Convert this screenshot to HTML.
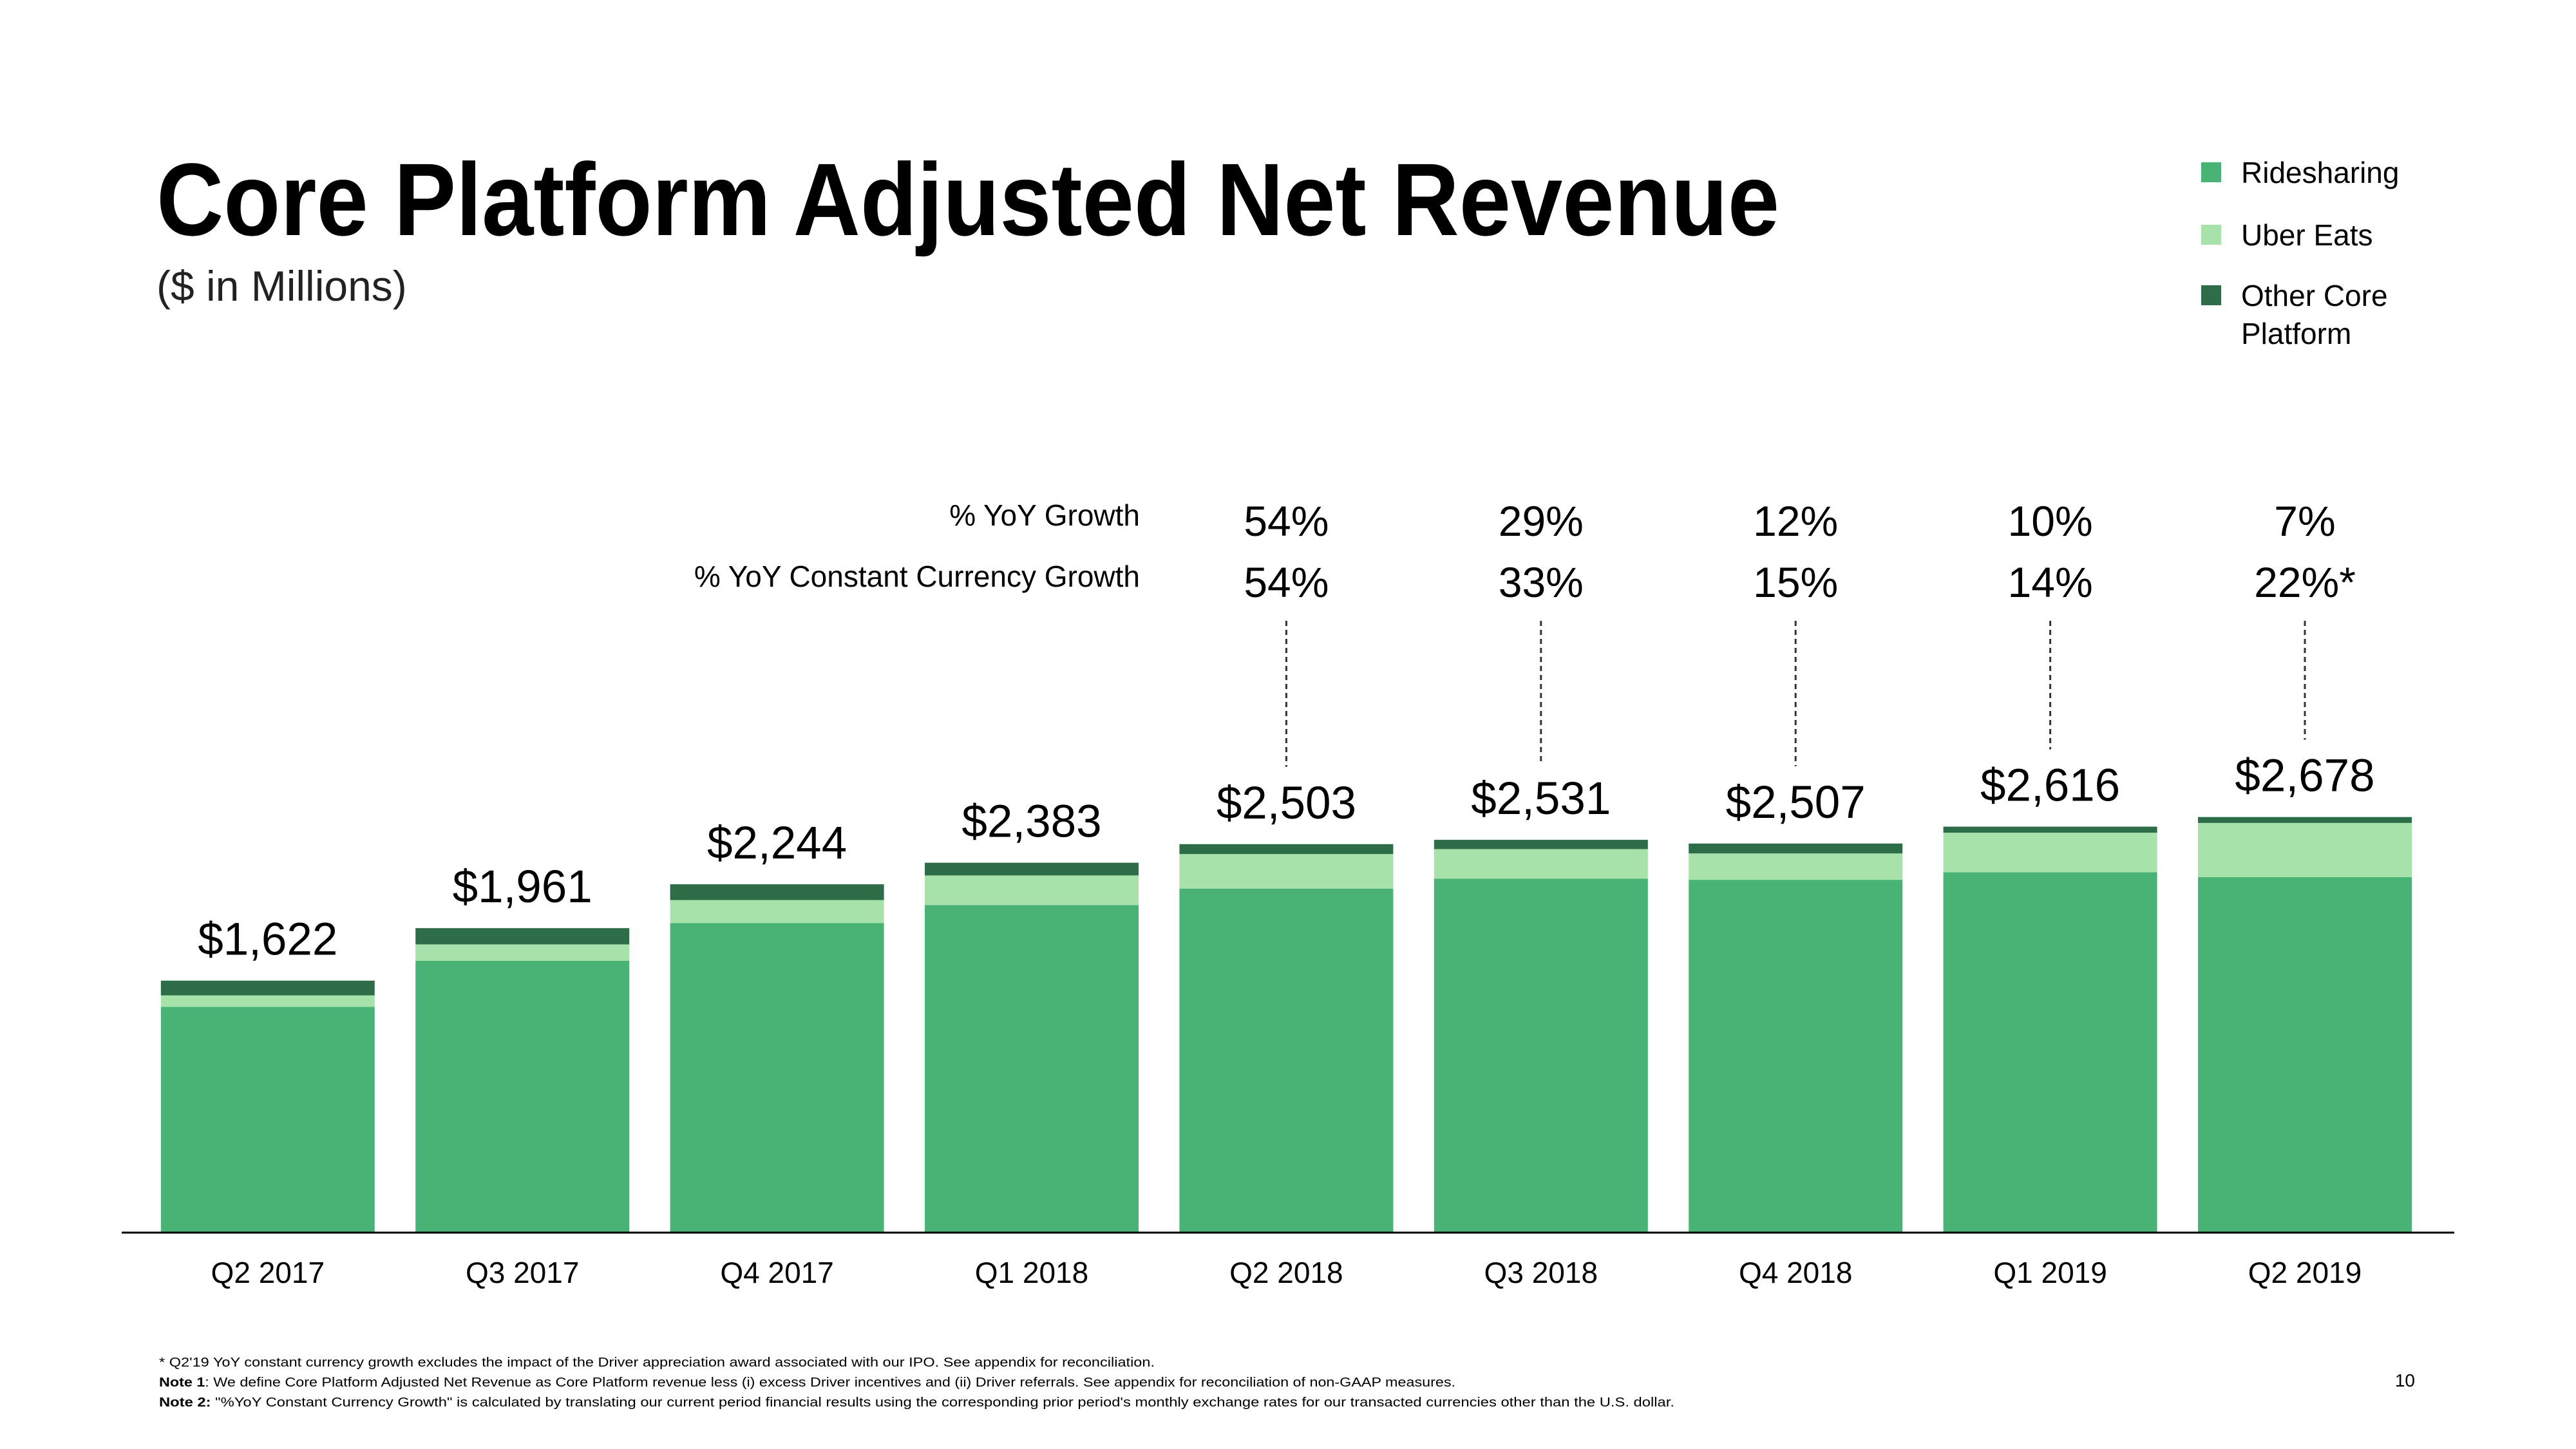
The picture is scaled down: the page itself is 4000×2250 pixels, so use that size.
<!DOCTYPE html>
<html><head><meta charset="utf-8"><style>
html,body{margin:0;padding:0;background:#fff;}
svg{display:block;font-family:"Liberation Sans",sans-serif;}
</style></head><body>
<svg id="chart" width="4000" height="2250" viewBox="0 0 4000 2250" xmlns="http://www.w3.org/2000/svg">
<rect width="4000" height="2250" fill="#fff"/>
<text x="243" y="365" font-size="160" font-weight="bold" fill="#000" textLength="2520" lengthAdjust="spacingAndGlyphs">Core Platform Adjusted Net Revenue</text>
<text x="243" y="467" font-size="66" fill="#222">($ in Millions)</text>
<g>
<rect x="3418" y="252" width="31" height="31" fill="#48B375"/>
<text x="3480" y="284" font-size="46">Ridesharing</text>
<rect x="3418" y="349" width="31" height="31" fill="#A6E2AA"/>
<text x="3480" y="381" font-size="46">Uber Eats</text>
<rect x="3418" y="443" width="31" height="31" fill="#2D6E48"/>
<text x="3480" y="475" font-size="46">Other Core</text>
<text x="3480" y="534" font-size="46">Platform</text>
</g>
<text x="1770" y="816" font-size="46" text-anchor="end">% YoY Growth</text>
<text x="1770" y="911" font-size="46" text-anchor="end">% YoY Constant Currency Growth</text>
<g id="bars"></g>
<line x1="189" y1="1914" x2="3811" y2="1914" stroke="#000" stroke-width="3"/>
<g font-size="20" fill="#000">
<text x="247" y="2122" textLength="1546" lengthAdjust="spacingAndGlyphs">* Q2'19 YoY constant currency growth excludes the impact of the Driver appreciation award associated with our IPO. See appendix for reconciliation.</text>
<text x="247" y="2153" textLength="2013" lengthAdjust="spacingAndGlyphs"><tspan font-weight="bold">Note 1</tspan>: We define Core Platform Adjusted Net Revenue as Core Platform revenue less (i) excess Driver incentives and (ii) Driver referrals. See appendix for reconciliation of non-GAAP measures.</text>
<text x="247" y="2184" textLength="2353" lengthAdjust="spacingAndGlyphs"><tspan font-weight="bold">Note 2:</tspan> "%YoY Constant Currency Growth" is calculated by translating our current period financial results using the corresponding prior period's monthly exchange rates for our transacted currencies other than the U.S. dollar.</text>
</g>
<text x="3750" y="2153" font-size="28" text-anchor="end">10</text>
</svg>
<script>
const categories = ["Q2 2017","Q3 2017","Q4 2017","Q1 2018","Q2 2018","Q3 2018","Q4 2018","Q1 2019","Q2 2019"];
const ridesharing = [1453,1750,1994,2110,2216,2280,2273,2322,2290];
const uberEats = [74,106,148,191,223,191,170,255,350];
const otherCore = [95,105,102,82,64,60,64,39,38];
const totalLabels = ["$1,622","$1,961","$2,244","$2,383","$2,503","$2,531","$2,507","$2,616","$2,678"];
const yoyGrowth = ["","","","","54%","29%","12%","10%","7%"];
const yoyCCGrowth = ["","","","","54%","33%","15%","14%","22%*"];

const NS = "http://www.w3.org/2000/svg";
const g = document.getElementById("bars");
const Y0 = 1913, K = 0.2406, X0 = 415.8, STEP = 395.4, BW = 332;
const xc = i => X0 + i * STEP;
const y = v => Y0 - v * K;
function mk(tag, attrs){ const e = document.createElementNS(NS, tag); for (const k in attrs) e.setAttribute(k, attrs[k]); g.appendChild(e); return e; }
categories.forEach((c, i) => {
  const cx = xc(i);
  let base = 0;
  const segs = [[ridesharing[i], "#48B375", "ridesharing"], [uberEats[i], "#A6E2AA", "uber-eats"], [otherCore[i], "#2D6E48", "other-core"]];
  segs.forEach(s => {
    const r = mk("rect", {x: cx - BW/2, y: y(base + s[0]), width: BW, height: s[0] * K, fill: s[1]});
    
    
    base += s[0];
  });
  const top = y(base);
  const t = mk("text", {x: cx, y: top - 40, "font-size": 71, "text-anchor": "middle"});
  t.textContent = totalLabels[i];
  
  
  const xl = mk("text", {x: cx, y: 1992, "font-size": 46, "text-anchor": "middle"});
  xl.textContent = c;
  
  
  if (yoyGrowth[i]) {
    const a = mk("text", {x: cx, y: 832, "font-size": 66, "text-anchor": "middle"});
    a.textContent = yoyGrowth[i];
    
    
    const b = mk("text", {x: cx, y: 927, "font-size": 66, "text-anchor": "middle"});
    b.textContent = yoyCCGrowth[i];
    
    
    const l = mk("line", {x1: cx, x2: cx, y1: 964, y2: top - 120, stroke: "#333", "stroke-width": 3, "stroke-dasharray": "8 6"});
    
    
  }
});
</script>
</body></html>
